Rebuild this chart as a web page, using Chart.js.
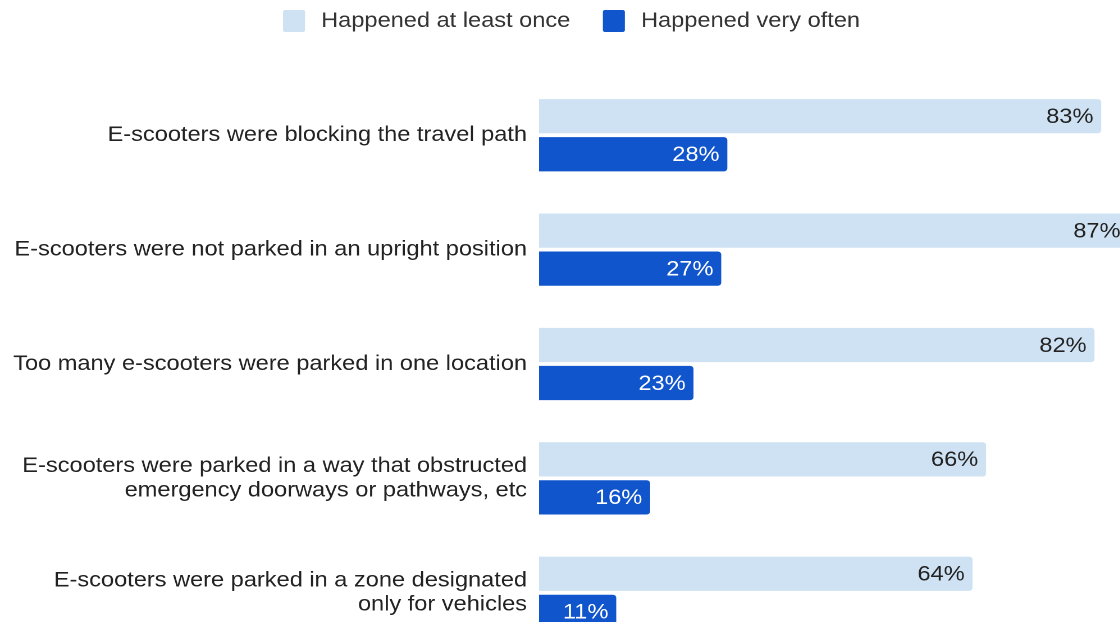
<!DOCTYPE html>
<html>
<head>
<meta charset="utf-8">
<script src="https://cdn.jsdelivr.net/npm/chart.js@4"></script>
<style>
  body { margin: 0; background: #fff; }
  /* a imagem original está cortada à direita e embaixo, e esticada na horizontal */
  #wrap { width: 1120px; height: 622px; overflow: hidden; }
  #chart { display: block; transform: scaleX(1.123); transform-origin: 0 0; }
</style>
</head>
<body>
<div id="wrap"><canvas id="chart" width="1015" height="650"></canvas></div>
<script>
// Dados (comprimentos das barras; rótulos arredondados)
const categories = [
  'E-scooters were blocking the travel path',
  'E-scooters were not parked in an upright position',
  'Too many e-scooters were parked in one location',
  ['E-scooters were parked in a way that obstructed', 'emergency doorways or pathways, etc'],
  ['E-scooters were parked in a zone designated', 'only for vehicles'],
];
const seriesNames = ['Happened at least once', 'Happened very often'];
const atLeastOnce = [83, 87, 82, 66, 64];
const veryOften = [27.8, 26.9, 22.8, 16.4, 11.4];
const xMax = 88.7;

const lightBlue = '#cfe2f3';
const darkBlue = '#1155cc';
const fontFamily = '"Liberation Sans", Arial, sans-serif';

// Legenda desenhada à mão para acertar os espaçamentos
const customLegend = {
  id: 'customLegend',
  afterDraw(chart) {
    const { ctx } = chart;
    ctx.save();
    ctx.font = '21px ' + fontFamily;
    ctx.textBaseline = 'middle';
    ctx.textAlign = 'left';
    let x = 252;
    const y = 21;
    chart.data.datasets.forEach((ds) => {
      ctx.fillStyle = ds.backgroundColor;
      ctx.beginPath();
      ctx.roundRect(x, y - 11, 19.6, 22, 2);
      ctx.fill();
      ctx.fillStyle = '#333';
      ctx.fillText(ds.label, x + 34, y);
      x += 34 + ctx.measureText(ds.label).width + 29;
    });
    ctx.restore();
  },
};

// Rótulos de valor dentro das barras
const valueLabels = {
  id: 'valueLabels',
  afterDatasetsDraw(chart) {
    const { ctx } = chart;
    ctx.save();
    ctx.font = '21px ' + fontFamily;
    ctx.textAlign = 'right';
    ctx.textBaseline = 'middle';
    chart.data.datasets.forEach((ds, i) => {
      const meta = chart.getDatasetMeta(i);
      meta.data.forEach((bar, j) => {
        ctx.fillStyle = i === 0 ? '#222' : '#fff';
        ctx.fillText(Math.round(ds.data[j]) + '%', bar.x - 7, bar.y + 1);
      });
    });
    ctx.restore();
  },
};

new Chart(document.getElementById('chart'), {
  type: 'bar',
  data: {
    labels: categories,
    datasets: [
      { label: seriesNames[0], data: atLeastOnce, backgroundColor: lightBlue },
      { label: seriesNames[1], data: veryOften, backgroundColor: darkBlue },
    ],
  },
  options: {
    indexAxis: 'y',
    responsive: false,
    maintainAspectRatio: false,
    devicePixelRatio: 2,
    animation: false,
    layout: { padding: { top: 78, right: 0, bottom: 0, left: 0 } },
    datasets: {
      bar: { categoryPercentage: 0.665, barPercentage: 0.9, borderRadius: 3, borderSkipped: 'start' },
    },
    scales: {
      x: { display: false, min: 0, max: xMax },
      y: {
        grid: { display: false, drawTicks: false },
        border: { display: false },
        afterFit: (scale) => {
          scale.width = 480;
          // sem folga extra para os rótulos de duas linhas
          scale.paddingTop = 0;
          scale.paddingBottom = 0;
        },
        ticks: {
          padding: 10.7,
          color: '#222',
          font: { family: fontFamily, size: 21, lineHeight: 1.15 },
        },
      },
    },
    plugins: {
      legend: { display: false },
      tooltip: { enabled: false },
    },
  },
  plugins: [customLegend, valueLabels],
});
</script>
</body>
</html>
